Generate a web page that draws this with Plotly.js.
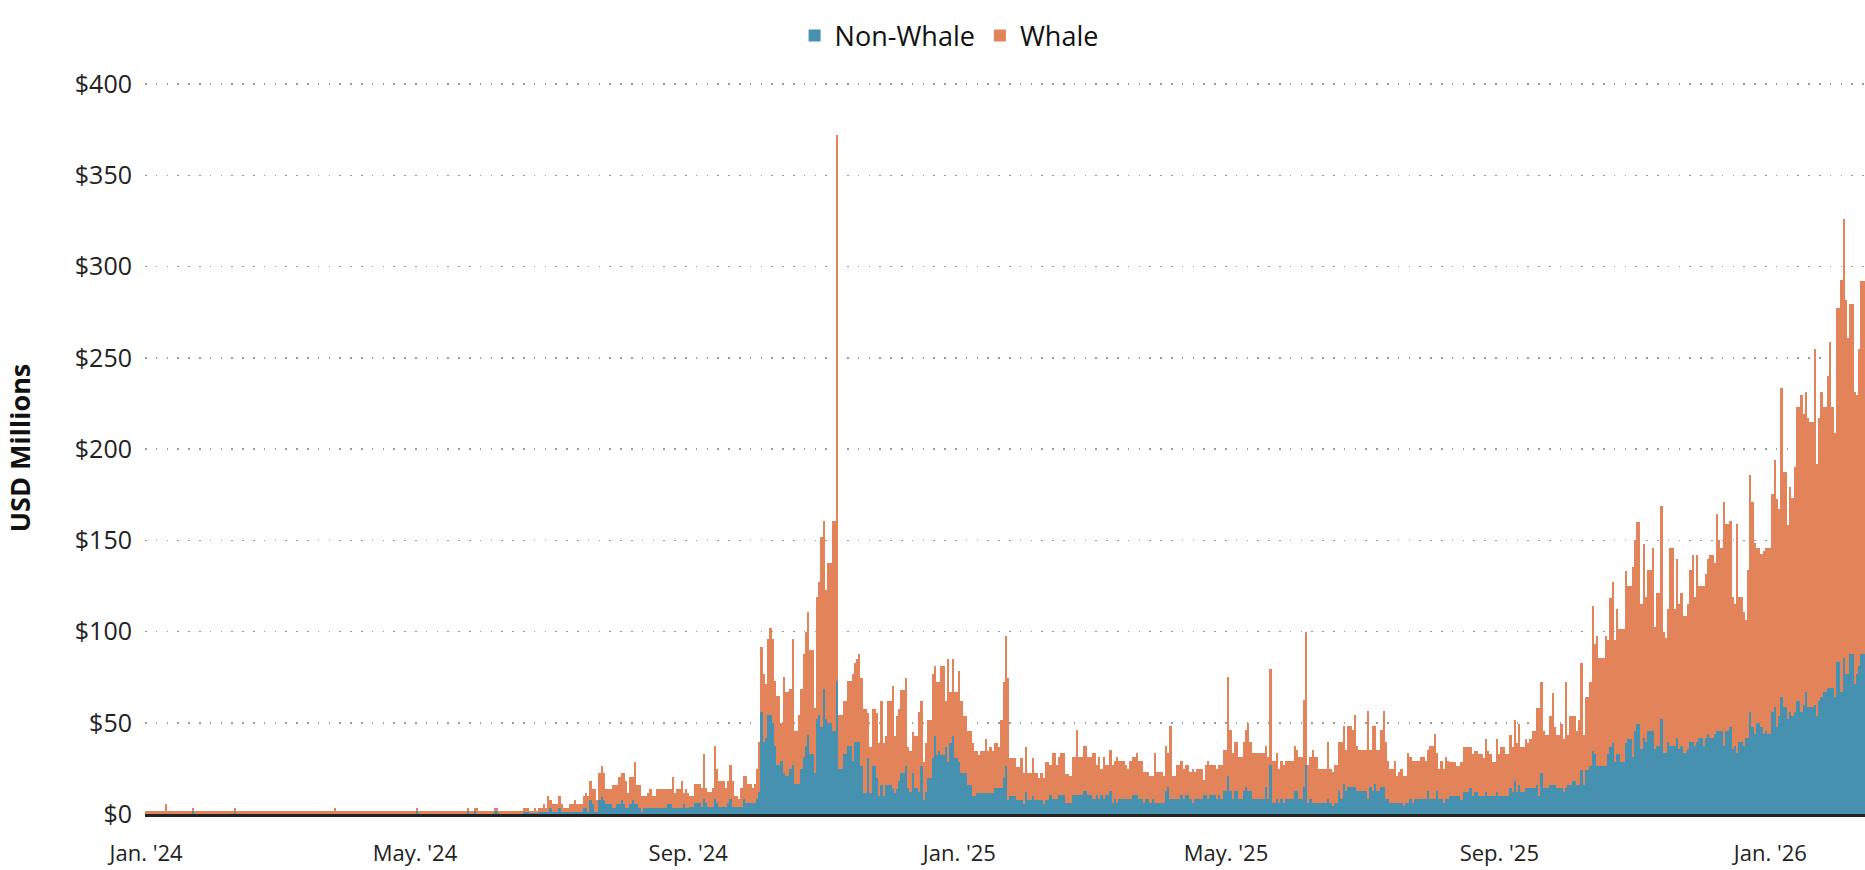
<!DOCTYPE html>
<html>
<head>
<meta charset="utf-8">
<script src="https://cdn.plot.ly/plotly-3.0.1.min.js"></script>
<style>
  html, body { margin: 0; padding: 0; background: #ffffff; }
  #chart { width: 1865px; height: 870px; }
</style>
</head>
<body>
<div id="chart"></div>
<script>
// Daily series starting 2024-01-01 (USD millions)
const startDate = '2024-01-01';

const nonWhale = [
// 0
0.2,0.2,0.2,0.2,0.2,0.2,0.2,0.2,0.2,0.2,
0.2,0.2,0.2,0.2,0.2,0.2,0.2,0.2,0.2,0.2,
0.2,1.4,0.2,0.2,0.2,0.2,0.2,0.2,0.2,0.2,
0.2,0.2,0.2,0.2,0.2,0.2,0.2,0.2,0.2,0.2,
1.0,0.2,0.2,0.2,0.2,0.2,0.2,0.2,0.2,0.2,
// 50
0.2,0.2,0.2,0.2,0.2,0.2,0.2,0.2,0.2,0.2,
0.2,0.2,0.2,0.2,0.2,0.2,0.2,0.2,0.2,0.2,
0.2,0.2,0.2,0.2,0.2,0.2,0.2,0.2,0.2,0.2,
0.2,0.2,0.2,0.2,0.2,0.2,0.2,0.2,0.2,0.2,
0.2,0.2,0.2,0.2,0.2,0.2,0.2,0.2,0.2,0.2,
// 100
0.2,0.2,0.2,0.2,0.2,0.2,0.2,0.2,0.2,0.2,
0.2,0.2,0.2,0.2,0.2,0.2,0.2,0.2,0.2,0.2,
0.2,0.2,1.4,0.2,0.2,0.2,0.2,0.2,0.2,0.2,
0.2,0.2,0.2,0.2,0.2,0.2,0.2,0.2,0.2,0.2,
0.2,0.2,0.2,0.2,0.2,1.4,0.2,0.2,1.4,0.2,
// 150
0.2,0.2,0.2,0.2,0.2,0.2,0.2,1.5,1.5,0.2,
0.2,0.2,0.2,0.2,0.2,0.2,0.2,0.2,0.2,0.2,
1.3,1.3,1.3,0.3,0.3,0.3,0.3,1.3,1.3,1.3,
1.3,1.3,3.5,1.3,1.3,1.3,3.5,1.3,1.3,1.3,
1.3,1.3,1.3,1.3,1.3,1.3,1.3,3.5,3.5,1.3,
// 200
7.7,5.5,1.3,1.3,7.7,9.5,7.7,5.5,5.5,5.5,
3.5,3.5,5.5,5.5,7.7,5.5,3.5,3.5,5.5,7.7,
5.5,5.5,3.5,1.3,3.5,3.5,3.5,3.5,3.5,3.5,
3.5,3.5,3.5,3.5,3.5,5.5,5.5,3.5,3.5,3.5,
3.5,3.5,5.5,3.5,3.5,3.8,3.8,5.8,5.8,5.8,
// 250
3.8,8,5.8,3.8,3.8,3.8,8,5.8,3.8,3.8,
3.8,3.8,5.8,8,3.8,3.8,3.8,3.8,3.8,8,
5.8,5.8,5.8,5.8,5.8,8,12,56,39.5,41.5,
54,54,50,37,27,27,29,22.6,20.6,20.6,
24.6,27,16.3,16.3,16.3,24.6,31,37,43.5,33,
// 300
33,22.6,52,54,47.7,68.6,52,50,50,45.7,
45.7,73,24.6,24.6,33,33,37,37,29,39.5,
39.5,39.5,26.5,11.5,11.5,30.5,11.5,26.5,26.5,20,
10,16,10,16,16,16,13.7,11.5,13.7,18,
22.3,22.3,26.5,14.3,12,22.3,14.3,14.3,12,26.5,
// 350
7.7,12,20,20,30.5,43,32.5,34.7,32.5,32.5,
36.8,28.3,38.8,43,30.5,30.5,28.3,22.3,22.3,22.3,
16,16,9.7,9.7,11.5,11.5,11.5,11.5,11.5,11.5,
11.5,11.5,14.3,14.3,14.3,14.3,20,26.5,7.7,9.7,
9.7,9.7,7.7,7.7,7.7,5.5,12,7.7,7.7,9.7,
// 400
7.7,7.7,7.7,7.7,5.5,7.7,7.7,10.4,8.4,8.4,
8.4,10.4,10.4,10.4,6.2,6.2,6.2,10.4,10.4,10.4,
10.4,10.4,12.4,12.4,10.4,10.4,8.4,8.4,10.4,8.4,
10.4,8.4,10.4,10.4,12.4,6.2,8.4,6.2,8.4,8.4,
8.4,8.4,8.4,8.4,10.4,10.4,10.4,8.4,8.4,6.2,
// 450
8.4,8.4,6.2,8.4,6.2,6.2,6.2,6.2,6.2,12.4,
14.6,8.4,8.4,8.4,8.4,8.4,10.4,8.4,10.4,10.4,
8.4,6.2,8.4,8.4,8.4,8.4,10.4,10.4,8.4,10.4,
10.4,10.4,8.4,10.4,8.4,12.4,12.4,20.7,12.4,8.4,
12.4,12.4,8.4,8.4,12.4,14.6,12.4,12.4,8.4,8.4,
// 500
8.4,8.4,8.4,8.4,14.6,8.4,26.9,6.2,6.2,8.4,
6.2,8.4,6.2,8.4,8.4,8.4,8.4,12.4,12.4,8.4,
8.4,14.6,26.9,6.2,8.4,6.2,6.2,6.2,6.2,6.2,
6.2,6.2,8.4,6.2,4.2,6.2,6.2,12.4,8.4,16.6,
12.4,14.6,14.6,14.6,14.6,12.4,12.4,12.4,12.4,12.4,
// 550
8.4,14.6,12.4,16.6,12.4,12.4,14.6,14.6,8.4,8.4,
6.2,6.2,6.2,6.2,6.2,6.2,4.2,6.2,6.2,8.4,
6.2,8.4,8.4,8.4,8.4,8.4,8.4,12.4,8.4,8.4,
8.4,12.4,8.4,8.4,6.2,8.4,8.4,9.7,9.7,9.7,
9.7,9.7,7.9,11.9,11.9,11.9,14,9.7,11.9,11.9,
// 600
9.7,9.7,9.7,11.9,9.7,9.7,9.7,9.7,11.9,9.7,
9.7,9.7,9.7,9.7,14,11.9,18.3,11.9,16,11.9,
11.9,14,14,14,14,14,16,9.7,22.3,14,
14,14,16,16,16,14,14,14,11.9,14,
16,16,18.3,18.3,16,16,24.3,16,24.3,24.3,
// 650
26.5,34.7,32.9,26.5,26.5,26.5,26.5,26.5,32.9,36.9,
38.9,28.7,32.9,32.9,28.7,28.7,38.9,41.1,41.1,31.5,
45.3,49.5,49.5,35.5,41.6,39.5,45.5,45.5,45.5,35.5,
37.4,37.4,51.9,33.6,33.6,39.5,37.4,37.4,37.4,41.6,
35.5,37.4,33.6,33.6,35.5,39.5,39.5,37.4,39.5,41.6,
// 700
41.6,37.4,41.6,43.6,41.6,41.6,43.6,45.5,45.5,45.5,
37.4,45.5,45.5,47.9,35.5,37.4,33.6,39.5,39.5,37.4,
41.6,41.6,56,47.9,43.7,49.8,49.8,47.9,43.7,45.5,
43.7,43.7,56,58.4,47.9,53.7,64.2,58.4,58.4,51.9,
56,53.7,56,61.9,61.9,56,60,66.6,58.4,58.4,
// 750
58.4,60,53.7,61.9,64.2,66.6,66.6,68.9,68.9,68.9,
64.2,83.4,83.4,66.6,85.3,77,77,87.6,87.6,71.2,
77,81,87.6,87.6
];

const whale = [
// 0
1.2,1.2,1.2,1.2,1.2,1.2,1.2,1.2,1.2,5.3,
1.2,1.2,1.2,1.2,1.2,1.2,1.2,1.2,1.2,1.2,
1.2,1.9,1.2,1.2,1.2,1.2,1.2,1.2,1.2,1.2,
1.2,1.2,1.2,1.2,1.2,1.2,1.2,1.2,1.2,1.2,
2.3,1.2,1.2,1.2,1.2,1.2,1.2,1.2,1.2,1.2,
// 50
1.2,1.2,1.2,1.2,1.2,1.2,1.2,1.2,1.2,1.2,
1.2,1.2,1.2,1.2,1.2,1.2,1.2,1.2,1.2,1.2,
1.2,1.2,1.2,1.2,1.2,1.2,1.2,1.2,1.2,1.2,
1.2,1.2,1.2,1.2,1.2,3.1,1.2,1.2,1.2,1.2,
1.2,1.2,1.2,1.2,1.2,1.2,1.2,1.2,1.2,1.2,
// 100
1.2,1.2,1.2,1.2,1.2,1.2,1.2,1.2,1.2,1.2,
1.2,1.2,1.2,1.2,1.2,1.2,1.2,1.2,1.2,1.2,
1.2,1.2,1.9,1.2,1.2,1.2,1.2,1.2,1.2,1.2,
1.2,1.2,1.2,1.2,1.2,1.2,1.2,1.2,1.2,1.2,
1.2,1.2,1.2,1.2,1.2,1.9,1.2,1.2,1.9,3.1,
// 150
1.2,1.2,1.2,1.2,1.2,1.2,1.2,2.0,2.0,1.2,
1.2,1.2,1.2,1.2,1.2,1.2,1.2,1.2,1.2,1.2,
2.2,2.2,2.2,1.1,1.1,3.2,1.1,2.2,2.2,4.4,
2.2,8.4,4.4,4.2,4.2,4.2,6.2,4.2,2.2,2.2,
2.2,4.2,4.2,6.4,4.2,4.2,4.2,6.2,8.2,8.4,
// 200
10.6,8.2,12.4,6.4,14.6,16.8,14.6,8.2,8.2,8.2,
12.4,12.4,10.4,14.6,14.6,16.8,14.8,8.2,14.6,12.4,
23.0,10.4,12.4,8.4,6.2,6.2,8.2,10.2,6.2,6.2,
10.2,10.2,10.2,10.2,10.2,8.2,8.2,16.6,8.2,10.2,
10.2,14.8,6.2,10.2,8.2,6.2,6.2,10.5,10.5,10.5,
// 250
10.5,25,8.5,8.2,8.2,10.5,29,18.8,14.5,14.5,
14.5,10.5,12.5,19,14.5,6.2,6.2,4.2,10.5,12.6,
14.8,10.5,10.5,8.5,10.5,16.6,27.5,35.7,37.5,29.5,
41.7,48,45.7,36,37.6,37.6,21,52.4,46,46,
44,68.7,29.4,29.4,37.7,44,56.5,63,67.1,56.7,
// 300
56.7,35.7,66.9,73.4,104.3,92.2,71,87.7,87.7,115.1,
115.1,299,29.4,29.4,29,29,36,36,48,43.5,
45.5,48,48.1,46.1,46.1,24.9,25.3,31.1,31.1,35.4,
29,46.2,29,27,46.2,46.2,56.7,31.5,39.9,39.6,
45.9,45.9,48.1,22.5,22.7,22.9,28.7,28.7,43.8,35.7,
// 350
20.6,27,31.6,31.6,46.3,38,40.1,37.9,48.5,48.5,
25.4,56.7,28,42,36.3,36.3,50.3,39.9,31.3,31.3,
29.7,29.7,29.3,25,23.2,21,23.2,23.2,29.5,23.2,
25.3,23.2,24.7,24.7,22.5,37.3,52.6,71.3,66.9,20.8,
20.8,20.8,17.9,17.9,22.8,16.8,24.8,14.6,14.6,20.8,
// 400
14.6,14.6,12.3,14.6,14.5,20.6,20.6,16.7,25.1,25.1,
18.7,20.9,23.1,23.1,15.8,15.8,14.5,20.9,20.9,35.5,
20.9,20.9,25.1,25.1,20.9,20.9,25.1,25.1,16.7,22.9,
14.5,22.9,16.7,16.7,22.9,20.9,20.7,25.1,20.7,20.7,
20.7,18.7,16.5,20.7,20.9,20.9,23.1,20.7,20.7,16.9,
// 450
14.7,14.7,14.5,12.3,27.3,16.9,16.9,16.9,14.5,25.1,
18.9,39.6,12.3,12.3,18.7,18.7,18.7,16.5,16.7,16.7,
14.7,18.7,14.7,16.5,16.5,16.5,8.5,16.7,20.7,16.7,
16.7,16.7,16.5,16.7,18.7,22.9,22.9,54.3,33.5,25.1,
27.3,27.3,22.9,22.9,27.3,31.3,37.5,27.3,25.1,25.1,
// 500
25.1,25.1,25.1,25.1,22.9,22.9,52.5,23.1,23.1,25.1,
18.7,20.7,20.9,20.7,20.7,20.7,20.7,25.1,22.9,22.9,
22.9,47.8,73.1,20.9,22.9,29.1,25.1,25.1,18.7,18.7,
18.7,18.7,31.1,18.7,18.9,20.9,20.9,27.1,31.1,31.4,
22.9,33.4,33.4,31.3,39.6,25.1,22.9,22.9,22.9,22.9,
// 550
47.8,20.7,35.6,31.4,22.9,22.9,31.3,41.6,31.1,20.7,
18.7,18.7,22.9,14.5,16.9,18.7,16.5,14.5,27.3,22.9,
22.9,20.7,20.7,20.7,22.9,22.9,20.7,22.9,29.1,29.1,
35.3,21.1,16.5,20.7,18.7,22.9,20.7,19,19,19,
16.8,16.8,20.8,25,25,25,22.9,23.2,22.8,22.8,
// 600
23.2,23.2,21,29.2,25,23.2,19,19,29.2,23.2,
27.2,27.2,23.2,23.2,29.3,25,33.4,27,33.5,25,
25,27.1,24.9,27.1,31.3,31.3,41.9,48.2,50.3,31.3,
29.3,29.3,37.7,50.4,31.5,29.3,29.3,35.5,29.2,58.6,
27.3,37.7,35.4,35.4,29.3,35.7,58.7,27.3,40,40,
// 650
46.1,79.3,60.5,70.9,58.9,58.9,58.9,70.9,62.5,81.6,
88.1,66.7,79.5,68.7,72.9,72.9,94.4,83.8,83.8,103.8,
104.7,110.8,110.8,79.5,106.3,79.5,88.1,88.1,100.5,66.8,
83.6,83.6,117.1,66.1,62.6,73.1,108.6,108.6,75.2,98.1,
79.5,83.6,75,75,79.5,94.1,102.3,81.6,102.3,83.4,
// 700
83.4,87.6,89.9,96.1,100.2,100.2,94.2,119.2,104.5,100.5,
133.8,113.3,113.3,112.8,83.5,77.6,125.2,79.5,79.5,73.1,
64.7,92,129.7,123.3,104.6,96.2,96.2,94.6,100.3,100.5,
102.3,102.3,119.2,135.5,125,113.3,169.4,129.2,129.2,106.5,
123.4,119.6,134,161.1,161.1,173.6,159,164.7,158.4,156.6,
// 750
156.6,194.6,138.3,154.9,167.1,156.4,156.4,171.1,189.7,154.1,
144.8,194.1,194.1,225.9,240.6,204.5,184,192,192,160.1,
152.6,173.6,204.4,204.4
];

const xTickVals = ['2024-01-01','2024-05-01','2024-09-01','2025-01-01','2025-05-01','2025-09-01','2026-01-01'];
const xTickText = ["Jan. '24","May. '24","Sep. '24","Jan. '25","May. '25","Sep. '25","Jan. '26"];
const yTickVals = [0,50,100,150,200,250,300,350,400];
const yTickText = ['$0','$50','$100','$150','$200','$250','$300','$350','$400'];

const seriesNames = ['Non-Whale','Whale'];
const seriesColors = ['#4690B0','#E3835A'];

// category axis: one date per daily value
const dates = nonWhale.map((_, i) => {
  const d = new Date(startDate + 'T00:00:00Z');
  d.setUTCDate(d.getUTCDate() + i);
  return d.toISOString().slice(0, 10);
});

const FONT = 'Open Sans, Liberation Sans, sans-serif';

const traces = [
  { type: 'bar', name: seriesNames[0], x: dates, y: nonWhale,
    marker: { color: seriesColors[0], line: { width: 0 } } },
  { type: 'bar', name: seriesNames[1], x: dates, y: whale,
    marker: { color: seriesColors[1], line: { width: 0 } } }
];

const layout = {
  width: 1865, height: 870,
  margin: { l: 145, r: 0, t: 82, b: 56 },
  paper_bgcolor: '#ffffff', plot_bgcolor: '#ffffff',
  barmode: 'stack', bargap: 0,
  font: { family: FONT, color: '#222222' },
  showlegend: true,
  legend: {
    orientation: 'h', x: 0.4675, xanchor: 'center', y: 1.063, yanchor: 'middle',
    font: { family: FONT, size: 27, color: '#111111' },
    traceorder: 'normal', itemwidth: 30
  },
  xaxis: {
    type: 'date',
    range: ['2023-12-31 12:00', '2026-02-12 14:00'],
    tickmode: 'array', tickvals: xTickVals, ticktext: xTickText,
    showgrid: false, zeroline: false,
    showline: true, linecolor: '#222222', linewidth: 2.5,
    ticks: '', ticklabelstandoff: 18,
    tickfont: { family: FONT, size: 22, color: '#222222' }
  },
  yaxis: {
    range: [0, 401.2],
    tickmode: 'array', tickvals: yTickVals, ticktext: yTickText,
    showgrid: true, gridcolor: '#9a9a9a', gridwidth: 1.6, griddash: '1.6px,9.2px',
    zeroline: false, showline: false, ticks: '', ticklabelstandoff: 12,
    tickfont: { family: FONT, size: 25, color: '#222222' },
    title: { text: 'USD Millions', standoff: 36,
      font: { family: FONT, size: 27, color: '#111111', weight: 'bold' } }
  },
  hovermode: false
};

Plotly.newPlot('chart', traces, layout, { staticPlot: true, displayModeBar: false });
</script>
</body>
</html>
